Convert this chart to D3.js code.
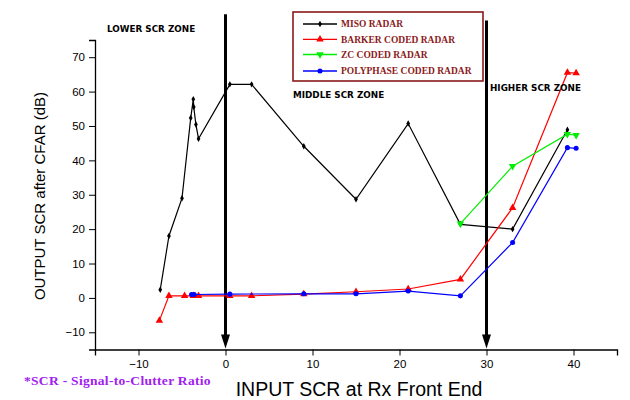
<!DOCTYPE html>
<html>
<head>
<meta charset="utf-8">
<script src="https://cdn.jsdelivr.net/npm/d3@7"></script>
<style>
  body { margin: 0; background: #ffffff; }
</style>
</head>
<body>
<div id="graph"></div>
<script>
// values (input SCR / output SCR in dB)
var misoX = [-7.5, -6.5, -5, -4, -3.7, -3.65, -3.4, -3.1, 0.5, 3, 9, 15, 21, 27, 33, 39.3];
var misoY = [2.4, 18, 29, 52.3, 57.8, 55.5, 50.4, 46.3, 62.1, 62.1, 44.1, 28.7, 50.7, 21.4, 20, 48.9];

var barkerX = [-7.6, -6.5, -4.7, -3.7, -3.1, 0.5, 3, 9, 15, 21, 27, 33, 39.3, 40.3];
var barkerY = [-6.6, 0.6, 0.6, 0.6, 0.6, 0.6, 0.6, 1.1, 1.8, 2.6, 5.4, 26.2, 65.5, 65.4];

var zcX = [27, 33, 39.3, 40.3];
var zcY = [21.6, 38.3, 47.6, 47.3];

var polyX = [-3.9, -3.6, 0.5, 9, 15, 21, 27, 33, 39.3, 40.3];
var polyY = [1.0, 1.0, 1.1, 1.2, 1.2, 2.0, 0.6, 16.1, 43.7, 43.5];

var legendNames = ["MISO RADAR", "BARKER CODED RADAR", "ZC CODED RADAR", "POLYPHASE CODED RADAR"];
var zoneNames = ["LOWER SCR ZONE", "MIDDLE SCR ZONE", "HIGHER SCR ZONE"];
var zoneBounds = [0, 30];
var xTicks = [-10, 0, 10, 20, 30, 40];
var yTicks = [-10, 0, 10, 20, 30, 40, 50, 60, 70];

// set the dimensions and margins of the graph
var margin = { top: 40, right: 13, bottom: 50.5, left: 95 },
  width = 630 - margin.left - margin.right,
  height = 400 - margin.top - margin.bottom;

var x = d3.scaleLinear().domain([-15, 45]).range([0, width]);
var y = d3.scaleLinear().domain([-15, 75]).range([height, 0]);

var svg = d3
  .select("#graph")
  .append("svg")
  .attr("width", 630)
  .attr("height", 400)
  .style("font-family", "'Liberation Sans', Arial, sans-serif");

var chart = svg
  .append("g")
  .attr("transform", "translate(" + margin.left + "," + margin.top + ")");

// series styles
var series = [
  { name: legendNames[0], xs: misoX, ys: misoY, color: "#000000", symbol: d3.symbolDiamond, size: 12, rot: 0 },
  { name: legendNames[1], xs: barkerX, ys: barkerY, color: "#ff0000", symbol: d3.symbolTriangle, size: 24, rot: 0 },
  { name: legendNames[2], xs: zcX, ys: zcY, color: "#00ee00", symbol: d3.symbolTriangle, size: 24, rot: 180 },
  { name: legendNames[3], xs: polyX, ys: polyY, color: "#0000ff", symbol: d3.symbolCircle, size: 20, rot: 0 }
];

// Add the x Axis
var xAxis = chart
  .append("g")
  .attr("transform", "translate(0," + height + ")");
xAxis.call(d3.axisBottom(x).tickValues(d3.range(-15, 46, 5)).tickSize(3).tickFormat(""));
xAxis.call(d3.axisBottom(x).tickValues(xTicks).tickSize(6).tickPadding(4))
  .call(g => g.selectAll(".tick text").attr("font-size", "11.5px").attr("fill", "#000")
    .style("font-family", "'Liberation Sans', Arial, sans-serif"));

// Add the y Axis
var yAxis = chart.append("g");
yAxis.call(d3.axisLeft(y).tickValues(d3.range(-15, 76, 5)).tickSize(3).tickFormat(""));
yAxis.call(d3.axisLeft(y).tickValues(yTicks).tickSize(6).tickPadding(4))
  .call(g => g.selectAll(".tick text").attr("font-size", "11.5px").attr("fill", "#000")
    .style("font-family", "'Liberation Sans', Arial, sans-serif"));
chart.selectAll(".domain").attr("stroke", "#000").attr("stroke-width", 1.3);

// zone boundary arrows
var arrowTop = [82.5, 80.7];
zoneBounds.forEach(function(b, i) {
  chart
    .append("line")
    .attr("x1", x(b))
    .attr("x2", x(b))
    .attr("y1", y(arrowTop[i]))
    .attr("y2", height - 12)
    .attr("stroke", "#000")
    .attr("stroke-width", 3);
  chart
    .append("path")
    .attr("d", "M" + (x(b) - 4.5) + "," + (height - 15) + "L" + (x(b) + 4.5) + "," + (height - 15) + "L" + x(b) + "," + (height - 1) + "Z")
    .attr("fill", "#000");
});

// lines and markers
series.forEach(function(s) {
  var pts = s.xs.map(function(v, i) { return [v, s.ys[i]]; });
  chart
    .append("path")
    .datum(pts)
    .attr("d", d3.line().x(d => x(d[0])).y(d => y(d[1])))
    .attr("stroke", s.color)
    .attr("stroke-width", 1.2)
    .attr("fill", "none");
  chart
    .selectAll(null)
    .data(pts)
    .enter()
    .append("path")
    .attr("d", d3.symbol().type(s.symbol).size(s.size))
    .attr("transform", d => "translate(" + x(d[0]) + "," + y(d[1]) + ") rotate(" + s.rot + ")")
    .attr("fill", s.color);
});

// zone labels
var zonePos = [[107, 32], [293, 98], [490, 91]];
svg
  .selectAll(".zone")
  .data(zoneNames)
  .enter()
  .append("text")
  .attr("class", "zone")
  .attr("x", (d, i) => zonePos[i][0])
  .attr("y", (d, i) => zonePos[i][1])
  .attr("font-size", "8.8px")
  .attr("font-weight", "bold")
  .attr("fill", "#000")
  .style("font-family", "'DejaVu Sans', Verdana, sans-serif")
  .text(d => d);

// legend
var legend = svg.append("g");
legend
  .append("rect")
  .attr("x", 293)
  .attr("y", 12)
  .attr("width", 190)
  .attr("height", 69)
  .attr("fill", "#fff")
  .attr("stroke", "#8b1a1a")
  .attr("stroke-width", 1.6);
var rowY = [24, 39.3, 54.5, 71];
series.forEach(function(s, i) {
  legend
    .append("line")
    .attr("x1", 303)
    .attr("x2", 337)
    .attr("y1", rowY[i])
    .attr("y2", rowY[i])
    .attr("stroke", s.color)
    .attr("stroke-width", 1.3);
  legend
    .append("path")
    .attr("d", d3.symbol().type(s.symbol).size(s.size))
    .attr("transform", "translate(320," + rowY[i] + ") rotate(" + s.rot + ")")
    .attr("fill", s.color);
  legend
    .append("text")
    .attr("x", 341)
    .attr("y", rowY[i] + 3.3)
    .style("font-family", "'Liberation Serif', 'Times New Roman', serif")
    .attr("font-weight", "bold")
    .attr("font-size", "9.5px")
    .attr("fill", "#8b1a1a")
    .text(s.name);
});

// text label for the y axis
svg
  .append("text")
  .attr("transform", "translate(45,196) rotate(-90)")
  .attr("font-size", "15px")
  .attr("fill", "#000")
  .style("text-anchor", "middle")
  .text("OUTPUT SCR after CFAR (dB)");

// text label for the x axis
svg
  .append("text")
  .attr("x", 359)
  .attr("y", 396)
  .attr("font-size", "19.5px")
  .attr("fill", "#000")
  .style("text-anchor", "middle")
  .text("INPUT SCR at Rx Front End");

// footnote
svg
  .append("text")
  .attr("x", 24)
  .attr("y", 385)
  .style("font-family", "'Liberation Serif', 'Times New Roman', serif")
  .attr("font-weight", "bold")
  .attr("font-size", "13.5px")
  .attr("letter-spacing", "0.3px")
  .attr("fill", "#a020f0")
  .text("*SCR - Signal-to-Clutter Ratio");
</script>
</body>
</html>
